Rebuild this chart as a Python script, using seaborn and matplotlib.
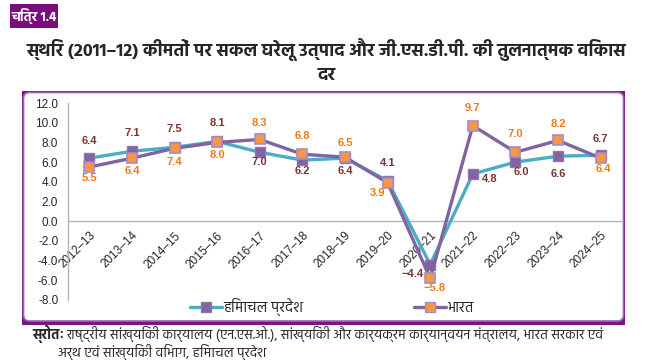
import matplotlib
matplotlib.use("Agg")
import matplotlib.pyplot as plt
import seaborn as sns
import numpy as np
from matplotlib import font_manager
from matplotlib.lines import Line2D
from matplotlib.patches import Rectangle, FancyBboxPatch

# data
years = ["2012–13", "2013–14", "2014–15", "2015–16", "2016–17", "2017–18", "2018–19",
         "2019–20", "2020–21", "2021–22", "2022–23", "2023–24", "2024–25"]
himachal = [6.4, 7.1, 7.5, 8.1, 7.0, 6.2, 6.4, 4.1, -4.4, 4.8, 6.0, 6.6, 6.7]
india = [5.5, 6.4, 7.4, 8.0, 8.3, 6.8, 6.5, 3.9, -5.8, 9.7, 7.0, 8.2, 6.4]
y_ticks = [12, 10, 8, 6, 4, 2, 0, -2, -4, -6, -8]

# label offsets (points) for the value labels
hp_off = [(0, 12), (0, 13), (0, 13), (0, 13), (0, -7), (0, -8), (0, -9), (0, 13),
          (-13, -7), (12, -4), (4, -7), (0, -13), (0, 12)]
in_off = [(0, -8), (0, -9), (0, -10), (0, -9), (0, 12), (0, 13), (0, 10), (-7, -7),
          (3, -7), (0, 13), (0, 13), (0, 12), (2, -8)]

# pick an installed font with Devanagari glyphs
installed = {f.name for f in font_manager.fontManager.ttflist}
deva = "Akshar"
for name in ["Hind", "Noto Sans Devanagari", "Mukta", "Poppins", "Yantramanav"]:
    if name in installed:
        deva = name
        break

sns.set_style("white")
plt.rcParams["font.family"] = ["Liberation Sans", deva, "DejaVu Sans"]
plt.rcParams["axes.unicode_minus"] = False
HINDI = [deva, "Liberation Sans", "DejaVu Sans"]

W, H = 653, 363
fig = plt.figure(figsize=(W / 100, H / 100), dpi=100)

# frame around the chart
inch = fig.dpi_scale_trans
fig.add_artist(Rectangle((0.22, 0.38), 6.03, 2.34, facecolor="#7E1482",
                         edgecolor="none", transform=inch, zorder=-2))
r = 0.06
fig.add_artist(FancyBboxPatch((0.235 + r, 0.42 + r), 6.0 - 2 * r, 2.285 - 2 * r,
                              boxstyle=f"round,pad={r}", facecolor="white",
                              edgecolor="#9A63BF", linewidth=1.2,
                              transform=inch, zorder=-1))

# "चित्र 1.4" tag
fig.add_artist(Rectangle((0.10, H / 100 - 0.28), 0.48, 0.24, facecolor="#7B0C7E",
                         edgecolor="none", transform=inch))
fig.text(0.34, H / 100 - 0.16, "चित्र 1.4", transform=inch, color="white",
         fontsize=9.5, fontweight="bold", ha="center", va="center", family=HINDI)

fig.text(0.5, 1 - 50 / H, "स्थिर (2011–12) कीमतों पर सकल घरेलू उत्पाद और जी.एस.डी.पी. की तुलनात्मक विकास",
         ha="center", va="center", fontsize=13, fontweight="bold", family=HINDI)
fig.text(0.5, 1 - 75 / H, "दर", ha="center", va="center", fontsize=13,
         fontweight="bold", family=HINDI)

ax = fig.add_axes([68 / W, 1 - 300 / H, (622 - 68) / W, (300 - 103) / H])
ax.patch.set_alpha(0)
x = np.arange(len(years))

sns.lineplot(x=x, y=himachal, ax=ax, color="#4BACC6", linewidth=2.4, marker="s",
             markersize=7.5, markerfacecolor="#8064A2", markeredgecolor="#8E74B0",
             markeredgewidth=1, zorder=3)
sns.lineplot(x=x, y=india, ax=ax, color="#8064A2", linewidth=2.4, marker="s",
             markersize=7.5, markerfacecolor="#F79646", markeredgecolor="#A58DC6",
             markeredgewidth=1.2, zorder=4)


def fmt(v):
    return f"{v:.1f}".replace("-", "\u2212")


for i, v in enumerate(himachal):
    ax.annotate(fmt(v), (x[i], v), xytext=hp_off[i], textcoords="offset points",
                ha="center", va="center", fontsize=8, fontweight="bold",
                color="#7A3535", zorder=6)
for i, v in enumerate(india):
    ax.annotate(fmt(v), (x[i], v), xytext=in_off[i], textcoords="offset points",
                ha="center", va="center", fontsize=8, fontweight="bold",
                color="#EE7A14", zorder=6)

ax.set_xlim(-0.5, len(years) - 0.5)
ax.set_ylim(-8, 12)
ax.set_yticks(y_ticks)
ax.set_yticklabels([f"{t:.1f}" for t in y_ticks], fontsize=8.5)

ax.spines["bottom"].set_position(("data", 0))
for s in ["top", "right"]:
    ax.spines[s].set_visible(False)
for s in ["left", "bottom"]:
    ax.spines[s].set_color("#B4B4B4")
    ax.spines[s].set_linewidth(1)

ax.set_xticks(x)
ax.set_xticklabels(years, fontsize=8.5, rotation=45, ha="right",
                   rotation_mode="anchor")
ax.set_xticks(np.arange(-0.5, len(years)), minor=True)
ax.tick_params(axis="x", which="major", length=0, pad=6)
ax.tick_params(axis="x", which="minor", length=4, color="#B4B4B4", direction="out")
ax.tick_params(axis="y", length=4, color="#B4B4B4", pad=3)
ax.grid(False)

handles = [
    Line2D([], [], color="#4BACC6", linewidth=2.4, marker="s", markersize=7.5,
           markerfacecolor="#8064A2", markeredgecolor="#8E74B0"),
    Line2D([], [], color="#8064A2", linewidth=2.4, marker="s", markersize=7.5,
           markerfacecolor="#F79646", markeredgecolor="#A58DC6"),
]
fig.legend(handles, ["हिमाचल प्रदेश", "भारत"], loc="center",
           bbox_to_anchor=(332 / W, 1 - 307 / H), ncol=2, frameon=False,
           prop={"family": HINDI, "size": 10.5}, handlelength=2.2,
           handletextpad=0.1, columnspacing=7.6)

fig.text(32 / W, 1 - 334 / H, "स्रोतः", fontsize=9.8, fontweight="bold",
         va="center", family=HINDI)
fig.text(66 / W, 1 - 334 / H,
         "राष्ट्रीय सांख्यिकी कार्यालय (एन.एस.ओ.), सांख्यिकी और कार्यक्रम कार्यान्वयन मंत्रालय, भारत सरकार एवं",
         fontsize=9.8, va="center", family=HINDI)
fig.text(58 / W, 1 - 352 / H, "अर्थ एवं सांख्यिकी विभाग, हिमाचल प्रदेश",
         fontsize=9.8, va="center", family=HINDI)

fig.savefig("out.png", dpi=100)
